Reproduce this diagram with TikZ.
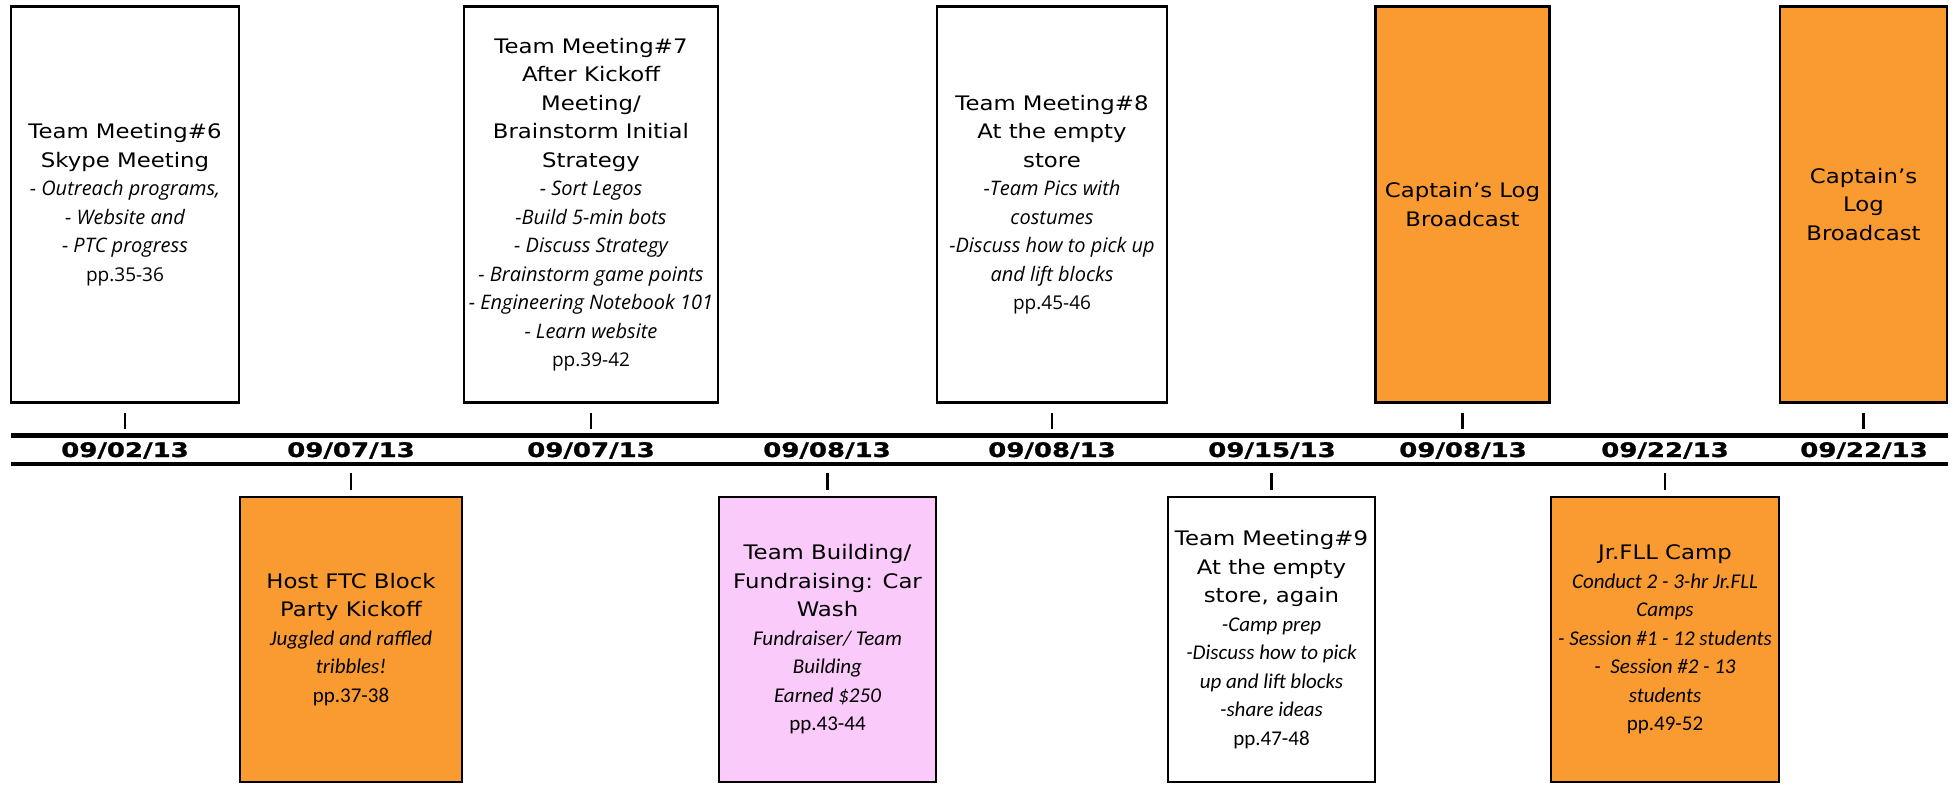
\documentclass[tikz,border=0pt]{standalone}
\usepackage{fontspec}
\setmainfont{Open Sans}
\newfontfamily\titlefam[FakeStretch=1.14]{DejaVu Sans}
\newfontfamily\datefam[FakeStretch=1.3,FakeBold=1.2]{DejaVu Sans Bold}
\newfontfamily\bodyfam{Open Sans}
\newfontfamily\bodybfam{Carlito}
\newcommand{\mytitle}{\titlefam\fontsize{20}{28.5}\selectfont}
\newcommand{\topit}{\bodyfam\itshape\fontsize{20}{28.5}\selectfont}
\newcommand{\toppg}{\bodyfam\upshape\fontsize{19}{28.5}\selectfont}
\newcommand{\botit}{\bodybfam\itshape\fontsize{21}{28.5}\selectfont}
\newcommand{\botpg}{\bodybfam\upshape\fontsize{21}{28.5}\selectfont}
\definecolor{boxorange}{RGB}{250,155,50}
\definecolor{boxpink}{RGB}{250,202,250}
\begin{document}
\begin{tikzpicture}[x=1pt,y=-1pt,
  evbox/.style={draw=black, line width=2.5pt, align=center, inner sep=0pt, font=\mytitle},
  topbox/.style={evbox, minimum height=396pt},
  botbox/.style={evbox, minimum height=285pt},
  orangebox/.style={fill=boxorange},
  pinkbox/.style={fill=boxpink},
  whitebox/.style={fill=white},
  dateline/.style={line width=4.5pt},
  tickline/.style={line width=2.5pt},
  datelabel/.style={font=\datefam\fontsize{20}{24}\selectfont, inner sep=0pt}]
\useasboundingbox (0,0) rectangle (1953,784);

% timeline
\coordinate (lineA) at (0,435.5);
\coordinate (lineB) at (0,464.2);
\coordinate (lAl) at (11,435.5);
\coordinate (lAr) at (1948,435.5);
\coordinate (lBl) at (11,464.2);
\coordinate (lBr) at (1948,464.2);
\draw[dateline] (lAl) -- (lAr);
\draw[dateline] (lBl) -- (lBr);

% dates
\node[datelabel] (d1) at (125,450.5) {09/02/13};
\node[datelabel] (d2) at (351,450.5) {09/07/13};
\node[datelabel] (d3) at (591,450.5) {09/07/13};
\node[datelabel] (d4) at (827,450.5) {09/08/13};
\node[datelabel] (d5) at (1052,450.5) {09/08/13};
\node[datelabel] (d6) at (1272,450.5) {09/15/13};
\node[datelabel] (d7) at (1463,450.5) {09/08/13};
\node[datelabel] (d8) at (1665,450.5) {09/22/13};
\node[datelabel] (d9) at (1864,450.5) {09/22/13};

% top boxes
\node[topbox, whitebox, minimum width=228pt] (b1) at (125,204.5)
 {Team Meeting\#6\\Skype Meeting\\\topit - Outreach programs,\\\topit - Website and\\\topit - PTC progress\\\toppg pp.35-36};
\node[topbox, whitebox, minimum width=254pt] (b2) at (591,204.5)
 {Team Meeting\#7\\After Kickoff\\Meeting/\\Brainstorm Initial\\Strategy\\\topit - Sort Legos\\\topit -Build 5-min bots\\\topit - Discuss Strategy\\\topit - Brainstorm game points\\\topit - Engineering Notebook 101\\\topit - Learn website\\\toppg pp.39-42};
\node[topbox, whitebox, minimum width=230pt] (b3) at (1052,204.5)
 {Team Meeting\#8\\At the empty\\store\\\topit -Team Pics with\\\topit costumes\\\topit -Discuss how to pick up\\\topit and lift blocks\\\toppg pp.45-46};
\node[topbox, orangebox, minimum width=174pt] (b4) at (1462.5,204.5)
 {Captain’s Log\\Broadcast};
\node[topbox, orangebox, minimum width=167pt] (b5) at (1863.5,204.5)
 {Captain’s\\Log\\Broadcast};

% bottom boxes
\node[botbox, orangebox, minimum width=222pt] (b6) at (351,639.5)
 {Host FTC Block\\Party Kickoff\\\botit Juggled and raffled\\\botit tribbles!\\\botpg pp.37-38};
\node[botbox, pinkbox, minimum width=217pt] (b7) at (827.5,639.5)
 {Team Building/\\Fundraising: Car\\Wash\\\botit Fundraiser/ Team\\\botit Building\\\botit Earned \$250\\\botpg pp.43-44};
\node[botbox, whitebox, minimum width=207pt] (b8) at (1271.5,639.5)
 {Team Meeting\#9\\At the empty\\store, again\\\botit -Camp prep\\\botit -Discuss how to pick\\\botit up and lift blocks\\\botit -share ideas\\\botpg pp.47-48};
\node[botbox, orangebox, minimum width=228pt] (b9) at (1665,639.5)
 {Jr.FLL Camp\\\botit Conduct 2 - 3-hr Jr.FLL\\\botit Camps\\\botit - Session \#1 - 12 students\\\botit -\ \ Session \#2 - 13\\\botit students\\\botpg pp.49-52};

% ticks
\foreach \b in {b1,b2,b3,b4,b5}
  \draw[tickline, shorten <=9.5pt, shorten >=6.5pt] (\b.south) -- (\b.south |- lineA);
\foreach \b in {b6,b7,b8,b9}
  \draw[tickline, shorten <=6pt, shorten >=8.8pt] (\b.north) -- (\b.north |- lineB);
\end{tikzpicture}
\end{document}
